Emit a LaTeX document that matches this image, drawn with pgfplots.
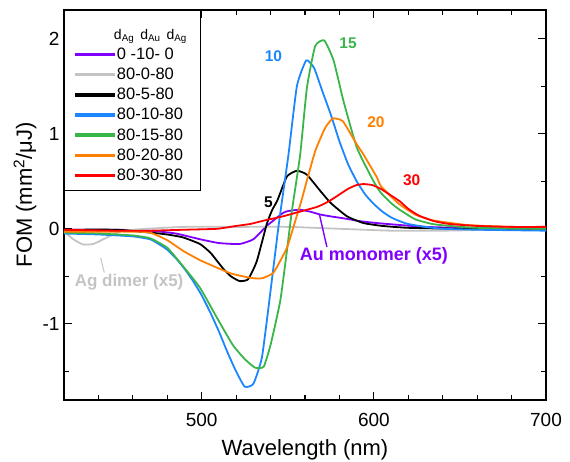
\documentclass[border=0pt]{standalone}
\usepackage{fontspec}
\setmainfont{Liberation Sans}
\usepackage{pgfplots}
\pgfplotsset{compat=1.18}

\definecolor{cPurple}{HTML}{8000FF}
\definecolor{cGray}{HTML}{C4C4C4}
\definecolor{cBlue}{HTML}{1C86FF}
\definecolor{cGreen}{HTML}{3AB54A}
\definecolor{cOrange}{HTML}{FF8000}
\definecolor{cRed}{HTML}{FF0000}

\begin{document}
\begin{tikzpicture}
\path[use as bounding box] (-64bp,-62bp) rectangle (506bp,400bp);
\begin{axis}[
  scale only axis, width=482bp, height=390bp,
  xmin=420, xmax=700, ymin=-1.8, ymax=2.3,
  xtick={500,600,700}, minor xtick={420,440,...,700},
  ytick={-1,0,1,2}, minor ytick={-1.5,-0.5,0.5,1.5},
  tick align=inside, major tick length=8bp, minor tick length=5bp,
  axis line style={line width=1.1bp},
  every tick/.style={line width=1.1bp, black},
  tick label style={font=\fontsize{19bp}{22bp}\selectfont},
  xticklabel style={yshift=-10bp},
  yticklabel style={xshift=-1bp},
  /pgf/number format/assume math mode=true,
  xlabel={Wavelength (nm)}, ylabel={FOM (mm\textsuperscript{2}/μJ)},
  every axis x label/.style={at={(axis description cs:0.5,-0.128)}, anchor=center,
    font=\fontsize{22bp}{26bp}\selectfont},
  every axis y label/.style={at={(axis description cs:-0.081,0.526)}, rotate=90, anchor=center,
    font=\fontsize{22bp}{26bp}\selectfont},
  legend cell align=left,
  legend style={at={(0,1)}, anchor=north west, draw=black,
    font=\fontsize{16.5bp}{19bp}\selectfont,
    inner xsep=11bp, inner ysep=6bp, row sep=3.2bp,
    /tikz/every even column/.append style={column sep=4bp}},
  % legend key as a filled bar, so it rasterises cleanly
  legend image code/.code={\fill[#1] (0bp,-0.95bp) rectangle (38bp,0.95bp);},
  every axis plot/.append style={line width=1.8bp, smooth, tension=0.3},
]
\addlegendimage{empty legend}
\addlegendentry{\rule{0pt}{21bp}\hspace{-3bp}\fontsize{14bp}{16bp}\selectfont d\textsubscript{Ag}\hspace{6bp}d\textsubscript{Au}\hspace{6bp}d\textsubscript{Ag}}

% 0-10-0 (Au monomer x5)
\addplot[cPurple] coordinates {
(420,-0.01)(450,-0.01)(470,-0.02)(485,-0.05)(499,-0.11)(510,-0.15)(522,-0.16)
(530,-0.11)(537.8,0.03)(547.5,0.17)(551.4,0.19)(557,0.20)(563,0.18)(568.8,0.15)
(575,0.13)(582.4,0.11)(592,0.08)(601.8,0.06)(615,0.04)(630,0.02)(650,0.01)(700,0.0)};
\addlegendentry{0 -10- 0}

% 80-0-80 (Ag dimer x5)
\addplot[cGray] coordinates {
(420,-0.03)(425.4,-0.11)(431,-0.165)(437,-0.16)(442.8,-0.11)(448.6,-0.06)
(454.5,-0.02)(468,0.0)(490,0.02)(520,0.02)(550,0.02)(580,0.0)(610,-0.02)
(640,-0.02)(670,-0.01)(700,-0.01)};
\addlegendentry{80-0-80}

% 80-5-80
\addplot[black] coordinates {
(420,-0.01)(450,-0.01)(470,-0.04)(480,-0.06)(489,-0.09)(499,-0.16)(505,-0.25)
(509,-0.34)(513,-0.43)(517,-0.50)(522,-0.55)(527,-0.53)(532,-0.34)(537.8,0.05)
(541,0.20)(544,0.30)(549.5,0.55)(555.3,0.61)(561,0.57)(568.8,0.40)(575,0.27)
(584.5,0.13)(594,0.06)(605,0.03)(620,0.01)(650,0.0)(700,0.0)};
\addlegendentry{80-5-80}

% 80-10-80
\addplot[cBlue] coordinates {
(420,-0.05)(440,-0.06)(460,-0.08)(470,-0.11)(475,-0.16)(480,-0.22)(485,-0.31)
(490,-0.42)(495,-0.55)(500,-0.70)(505,-0.88)(510,-1.08)(515,-1.30)(520,-1.50)
(525,-1.66)(530,-1.63)(535,-1.35)(540,-0.65)(545,0.08)(550.4,0.78)(555.3,1.50)
(560.7,1.77)(565.3,1.69)(570,1.45)(575,1.20)(580,0.92)(585,0.68)(590,0.50)
(595,0.36)(600,0.26)(605,0.18)(610,0.12)(615,0.08)(620,0.05)(630,0.02)(640,0.0)
(660,-0.01)(700,-0.02)};
\addlegendentry{80-10-80}

% 80-15-80
\addplot[cGreen] coordinates {
(420,-0.04)(440,-0.05)(460,-0.07)(470,-0.10)(480,-0.20)(489,-0.39)(499,-0.62)
(509,-0.94)(518,-1.22)(525,-1.37)(531,-1.46)(536,-1.45)(540,-1.22)(545.6,-0.76)
(549.5,-0.23)(552.4,0.19)(557.2,0.78)(561.1,1.48)(565.9,1.92)(571.2,1.98)
(576.6,1.77)(582.4,1.34)(590.2,0.85)(599.8,0.50)(604,0.38)(610,0.27)(615,0.20)
(624,0.10)(634,0.05)(644,0.03)(660,0.01)(700,0.0)};
\addlegendentry{80-15-80}

% 80-20-80
\addplot[cOrange] coordinates {
(420,-0.03)(440,-0.03)(460,-0.03)(470,-0.04)(480,-0.12)(489,-0.23)(499,-0.33)
(509,-0.41)(517,-0.47)(524,-0.50)(530,-0.52)(535,-0.52)(541.7,-0.46)(549.5,-0.20)
(554.3,0.08)(558,0.30)(561,0.50)(566,0.82)(571.7,1.06)(576.2,1.16)(582,1.13)
(590,0.89)(594,0.78)(601.8,0.54)(604,0.45)(614,0.27)(624,0.15)(634,0.09)
(654,0.04)(680,0.02)(700,0.02)};
\addlegendentry{80-20-80}

% 80-30-80
\addplot[cRed] coordinates {
(420,-0.01)(450,-0.02)(470,-0.02)(490,-0.01)(509,0.00)(520,0.03)(528,0.05)
(537,0.09)(547,0.13)(557,0.18)(567,0.23)(573,0.28)(580,0.36)(585,0.42)(590,0.46)
(594,0.47)(599,0.46)(604,0.42)(610,0.35)(615,0.29)(620,0.21)(626,0.14)(635,0.08)
(644,0.05)(660,0.03)(680,0.02)(700,0.02)};
\addlegendentry{80-30-80}

% annotations
\begin{scope}[every node/.style={font=\fontsize{15.5bp}{18bp}\selectfont\bfseries}]
\node[cBlue] at (axis cs:541.7,1.81) {10};
\node[cGreen] at (axis cs:585,1.95) {15};
\node[cOrange] at (axis cs:601.2,1.12) {20};
\node[cRed] at (axis cs:622,0.51) {30};
\node[black] at (axis cs:538.8,0.28) {5};
\end{scope}
\draw[cPurple, line width=1.4bp] (axis cs:568.4,0.15) -- (axis cs:572.7,-0.19);
\node[cPurple, font=\fontsize{18bp}{20bp}\selectfont\bfseries] at (axis cs:600,-0.28) {Au monomer (x5)};
\draw[cGray, line width=1bp] (axis cs:441.3,-0.305) -- (axis cs:443.4,-0.46);
\node[cGray, font=\fontsize{17bp}{20bp}\selectfont\bfseries] at (axis cs:457.8,-0.56) {Ag dimer (x5)};
\end{axis}
\end{tikzpicture}
\end{document}
